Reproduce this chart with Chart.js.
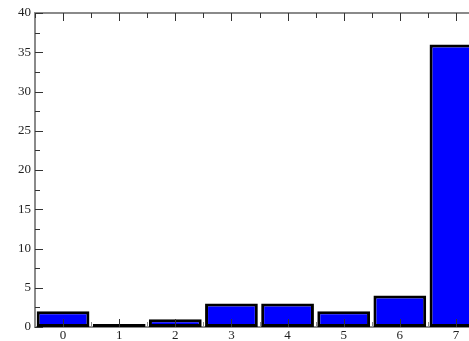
<!DOCTYPE html>
<html>
<head>
<meta charset="utf-8">
<script src="https://cdn.jsdelivr.net/npm/chart.js@4/dist/chart.umd.min.js"></script>
<style>
  html, body { margin: 0; padding: 0; background: #fff; }
  #wrap { width: 469px; height: 341px; overflow: hidden; }
</style>
</head>
<body>
<div id="wrap"><canvas id="histChart" width="484" height="341"></canvas></div>
<script>
//Data
const categories = ['0', '1', '2', '3', '4', '5', '6', '7'];
const counts = [2, 0, 1, 3, 3, 2, 4, 36];
const yTicks = [0, 5, 10, 15, 20, 25, 30, 35, 40];

const axisGray = '#8a8a8a';
const font = { family: 'Liberation Serif', size: 13 };

//Inward tick marks and top frame line
const tickPlugin = {
    id: 'innerTicks',
    beforeDatasetsDraw(chart) {
        const ctx = chart.ctx;
        const area = chart.chartArea;
        const x = chart.scales.x;
        ctx.save();
        ctx.strokeStyle = axisGray;
        ctx.lineWidth = 1;
        //minor x ticks at category boundaries, bottom
        for (let i = 0; i <= categories.length; i++) {
            const px = Math.round(x.getPixelForValue(i - 0.5)) + 0.5;
            ctx.beginPath();
            ctx.moveTo(px, area.bottom);
            ctx.lineTo(px, area.bottom - 5);
            ctx.stroke();
        }
        ctx.restore();
    },
    afterDatasetsDraw(chart) {
        const ctx = chart.ctx;
        const area = chart.chartArea;
        const x = chart.scales.x;
        const y = chart.scales.y;
        ctx.save();
        //top frame
        ctx.strokeStyle = axisGray;
        ctx.lineWidth = 2;
        ctx.beginPath();
        ctx.moveTo(area.left, area.top);
        ctx.lineTo(area.right, area.top);
        ctx.stroke();

        ctx.lineWidth = 1;
        ctx.strokeStyle = '#333';
        //x ticks
        for (let i = 0; i < categories.length; i++) {
            const px = Math.round(x.getPixelForValue(i)) + 0.5;
            ctx.beginPath();
            ctx.moveTo(px, area.top);
            ctx.lineTo(px, area.top + 8);
            ctx.moveTo(px, area.bottom);
            ctx.lineTo(px, area.bottom - 8);
            ctx.stroke();
        }
        for (let i = 0; i <= categories.length; i++) {
            const px = Math.round(x.getPixelForValue(i - 0.5)) + 0.5;
            ctx.beginPath();
            ctx.moveTo(px, area.top);
            ctx.lineTo(px, area.top + 5);
            ctx.stroke();
        }
        //y ticks
        yTicks.forEach(function(v) {
            const py = Math.round(y.getPixelForValue(v)) + 0.5;
            ctx.beginPath();
            ctx.moveTo(area.left, py);
            ctx.lineTo(area.left + 8, py);
            ctx.stroke();
        });
        for (let i = 0; i < yTicks.length - 1; i++) {
            const py = Math.round(y.getPixelForValue((yTicks[i] + yTicks[i + 1]) / 2)) + 0.5;
            ctx.beginPath();
            ctx.moveTo(area.left, py);
            ctx.lineTo(area.left + 5, py);
            ctx.stroke();
        }
        ctx.restore();
    }
};

document.addEventListener('DOMContentLoaded', function() {
    const ctx = document.getElementById('histChart').getContext('2d');
    new Chart(ctx, {
        type: 'bar',
        data: {
            labels: categories,
            datasets: [{
                data: counts,
                backgroundColor: '#0000ff',
                borderColor: '#000',
                borderWidth: 3,
                borderSkipped: false,
                minBarLength: 3,
                barPercentage: 0.94,
                categoryPercentage: 1
            }]
        },
        options: {
            responsive: false,
            animation: false,
            layout: { padding: { top: 13, right: 0, bottom: 0, left: 0 } },
            plugins: {
                legend: { display: false },
                tooltip: { enabled: false }
            },
            scales: {
                x: {
                    grid: { display: false, drawTicks: false },
                    border: { display: true, color: axisGray, width: 2 },
                    ticks: { font: font, color: '#222', padding: 1, maxRotation: 0 },
                    afterFit: function(scale) { scale.height = 14; }
                },
                y: {
                    min: 0,
                    max: 40,
                    grid: { display: false, drawTicks: false },
                    border: { display: true, color: axisGray, width: 2 },
                    ticks: { stepSize: 5, font: font, color: '#222', padding: 4 },
                    afterFit: function(scale) { scale.width = 35; }
                }
            }
        },
        plugins: [tickPlugin]
    });
});
</script>
</body>
</html>
